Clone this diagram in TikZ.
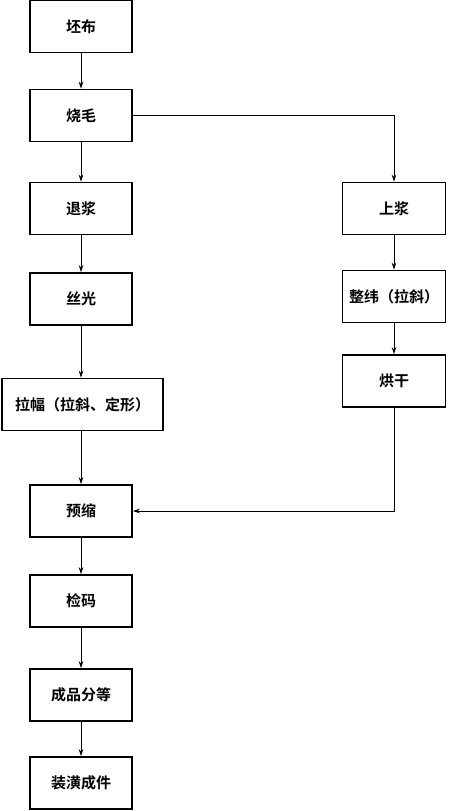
\documentclass[tikz,border=0pt]{standalone}
\usepackage{fontspec}
\setmainfont{Noto Sans CJK SC}[BoldFont={Noto Sans CJK SC Bold}]
\usetikzlibrary{arrows.meta}
\begin{document}
\begin{tikzpicture}[x=1pt,y=-1pt,
  proc/.style={draw=black,line width=1.6pt,minimum width=102pt,minimum height=52pt,inner sep=0pt,font=\fontsize{15}{18}\selectfont\bfseries},
  conn/.style={draw=black,line width=0.9pt,-{Stealth[length=7pt,width=4.5pt]}}]
\useasboundingbox (0,0) rectangle (450,811);
\node[proc] (pibu) at (81,26.5) {坯布};
\node[proc] (shaomao) at (81,115.5) {烧毛};
\node[proc] (tuijiang) at (81,208.5) {退浆};
\node[proc] (siguang) at (81,299) {丝光};
\node[proc,minimum width=161pt] (lafu) at (82.5,404.5) {拉幅（拉斜、定形）};
\node[proc] (yusuo) at (81,511) {预缩};
\node[proc] (jianma) at (81,601) {检码};
\node[proc] (fendeng) at (81,695) {成品分等};
\node[proc] (zhuanghuang) at (81,783) {装潢成件};
\node[proc,minimum width=103pt] (shangjiang) at (394,208.5) {上浆};
\node[proc,minimum width=103pt] (zhengwei) at (394,296.5) {整纬（拉斜）};
\node[proc,minimum width=103pt] (honggan) at (394,381) {烘干};
\draw[conn] (pibu) -- (shaomao);
\draw[conn] (shaomao) -- (tuijiang);
\draw[conn] (tuijiang) -- (siguang);
\draw[conn] (siguang) -- (siguang |- lafu.north);
\draw[conn] (lafu.south -| yusuo) -- (yusuo);
\draw[conn] (yusuo) -- (jianma);
\draw[conn] (jianma) -- (fendeng);
\draw[conn] (fendeng) -- (zhuanghuang);
\draw[conn] (shaomao.east) -| (shangjiang.north);
\draw[conn] (shangjiang) -- (zhengwei);
\draw[conn] (zhengwei) -- (honggan);
\draw[conn] (honggan.south) |- (yusuo.east);
\end{tikzpicture}
\end{document}
